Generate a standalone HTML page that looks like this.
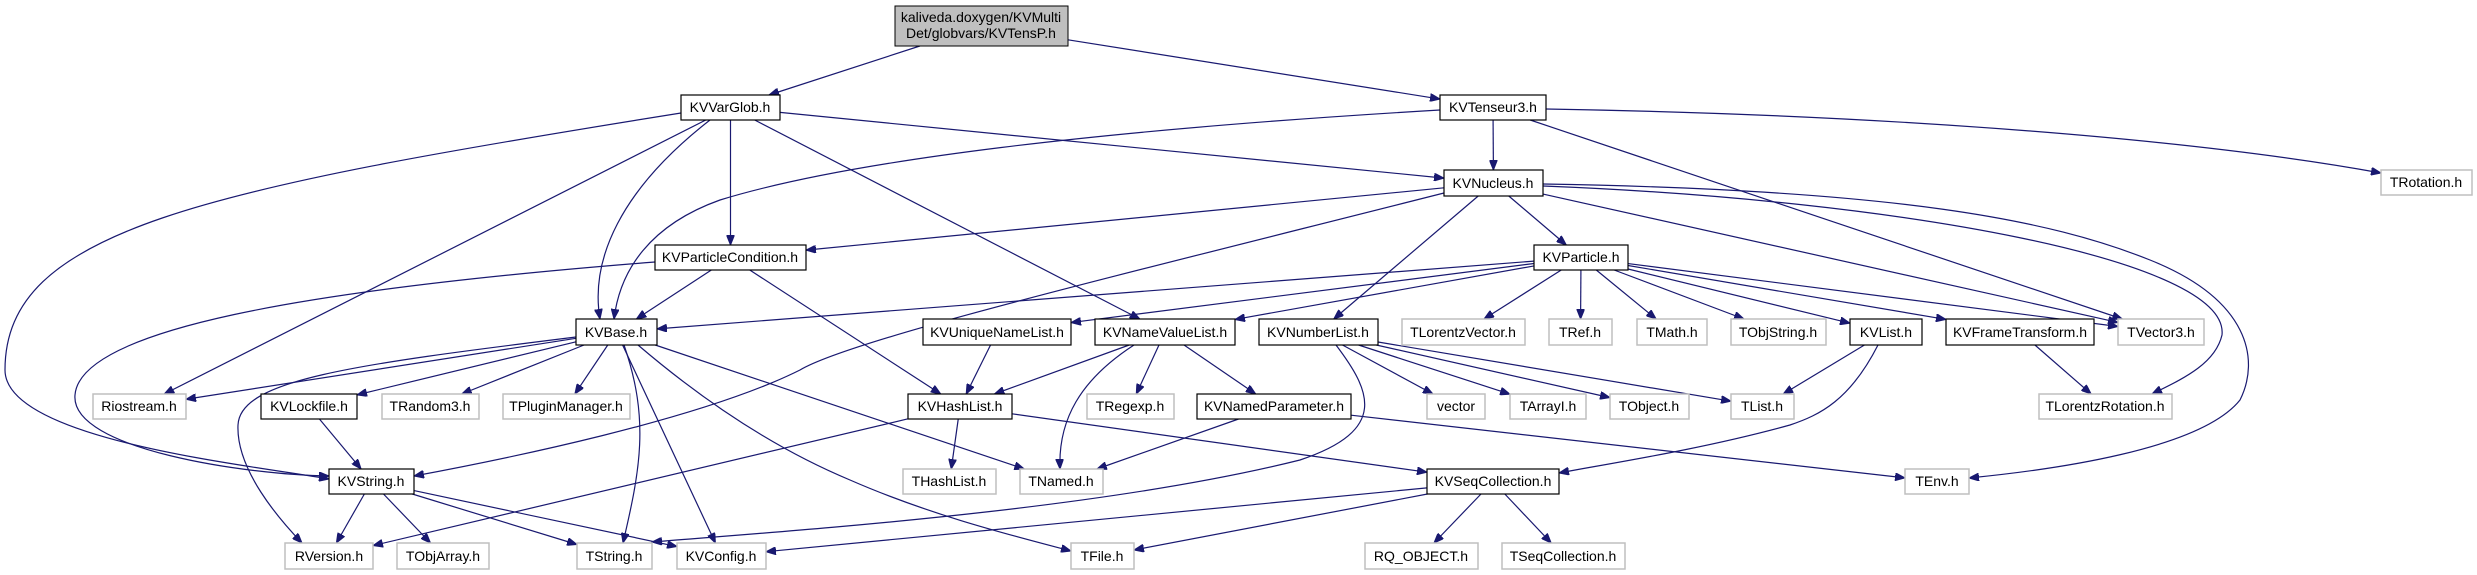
<!DOCTYPE html>
<html><head><meta charset="utf-8"><style>
html,body{margin:0;padding:0;background:#fff;}
svg{display:block;}
text{font-family:"Liberation Sans",Arial,sans-serif;font-size:14px;fill:#000;text-anchor:middle;}
</style></head><body>
<svg id="g" width="2477" height="575" viewBox="0 0 2477 575" xmlns="http://www.w3.org/2000/svg">
<defs><marker id="a" markerUnits="userSpaceOnUse" markerWidth="11" markerHeight="8" refX="10" refY="4" orient="auto"><path d="M0,0 L10,4 L0,8 z" fill="#191970" stroke="#191970"/></marker></defs>
<g id="edges" fill="none" stroke="#191970" stroke-width="1.2"></g>
<g id="nodes"></g>
<g id="labels">
<rect x="895" y="6" width="173" height="40" fill="#bfbfbf" stroke="#000"/>
<text x="981" y="22">kaliveda.doxygen/KVMulti</text>
<text x="981" y="38">Det/globvars/KVTensP.h</text>
</g>
</svg>
<script>
var N={
VarGlob:[681,95,780,120,"KVVarGlob.h",1],
Tenseur:[1440,95,1546,120,"KVTenseur3.h",1],
TRotation:[2381,170,2472,195,"TRotation.h",0],
Nucleus:[1444,170,1543,196,"KVNucleus.h",1],
PCond:[655,245,806,270,"KVParticleCondition.h",1],
Particle:[1534,245,1628,270,"KVParticle.h",1],
Base:[576,319,657,345,"KVBase.h",1],
UNL:[923,319,1071,345,"KVUniqueNameList.h",1],
NVL:[1095,319,1235,345,"KVNameValueList.h",1],
NumL:[1259,319,1378,345,"KVNumberList.h",1],
TLV:[1402,319,1525,345,"TLorentzVector.h",0],
TRef:[1549,319,1612,345,"TRef.h",0],
TMath:[1637,319,1707,345,"TMath.h",0],
TObjString:[1731,319,1826,345,"TObjString.h",0],
KVList:[1850,319,1922,345,"KVList.h",1],
KVFT:[1946,319,2094,345,"KVFrameTransform.h",1],
TVector3:[2118,319,2204,345,"TVector3.h",0],
Riostream:[93,394,186,419,"Riostream.h",0],
Lockfile:[261,394,357,419,"KVLockfile.h",1],
TRandom3:[382,394,479,419,"TRandom3.h",0],
TPM:[503,394,630,419,"TPluginManager.h",0],
HashList:[908,394,1012,419,"KVHashList.h",1],
TRegexp:[1087,394,1174,419,"TRegexp.h",0],
NamedPar:[1197,394,1351,419,"KVNamedParameter.h",1],
vector:[1427,394,1485,419,"vector",0],
TArrayI:[1510,394,1586,419,"TArrayI.h",0],
TObject:[1610,394,1689,419,"TObject.h",0],
TList:[1731,394,1794,419,"TList.h",0],
TLR:[2039,394,2172,419,"TLorentzRotation.h",0],
KVString:[329,469,414,494,"KVString.h",1],
THashList:[903,469,996,494,"THashList.h",0],
TNamed:[1020,469,1103,494,"TNamed.h",0],
SeqColl:[1427,469,1559,494,"KVSeqCollection.h",1],
TEnv:[1905,469,1969,494,"TEnv.h",0],
RVersion:[285,543,373,569,"RVersion.h",0],
TObjArray:[397,543,489,569,"TObjArray.h",0],
TString:[577,543,652,569,"TString.h",0],
KVConfig:[677,543,766,569,"KVConfig.h",0],
TFile:[1071,543,1134,569,"TFile.h",0],
RQ:[1365,543,1478,569,"RQ_OBJECT.h",0],
TSeqColl:[1502,543,1625,569,"TSeqCollection.h",0],
Top:[895,6,1068,46,"",1]
};
var ns="http://www.w3.org/2000/svg";
var E=document.getElementById("edges");
function c(n){var b=N[n];return[(b[0]+b[2])/2,(b[1]+b[3])/2];}
function clip(n,px,py){var b=N[n],cx=(b[0]+b[2])/2,cy=(b[1]+b[3])/2,hw=(b[2]-b[0])/2,hh=(b[3]-b[1])/2,dx=px-cx,dy=py-cy;var t=Math.min(dx?hw/Math.abs(dx):1e9,dy?hh/Math.abs(dy):1e9);return[cx+dx*t,cy+dy*t];}
function line(a,b){var ca=c(a),cb=c(b);var p=clip(a,cb[0],cb[1]),q=clip(b,ca[0],ca[1]);path("M"+p[0]+","+p[1]+" L"+q[0]+","+q[1]);}
function path(d){var p=document.createElementNS(ns,"path");p.setAttribute("d",d);p.setAttribute("marker-end","url(#a)");E.appendChild(p);}
[["Top","VarGlob"],["Top","Tenseur"],["VarGlob","Riostream"],["VarGlob","PCond"],["VarGlob","NVL"],["VarGlob","Nucleus"],
["Tenseur","Nucleus"],["Tenseur","TVector3"],["Nucleus","PCond"],["Nucleus","Particle"],["Nucleus","NumL"],["Nucleus","TVector3"],
["PCond","Base"],["PCond","HashList"],["Particle","Base"],["Particle","UNL"],["Particle","NVL"],["Particle","TLV"],["Particle","TRef"],
["Particle","TMath"],["Particle","TObjString"],["Particle","KVList"],["Particle","KVFT"],["Particle","TVector3"],
["Base","Riostream"],["Base","Lockfile"],["Base","TRandom3"],["Base","TPM"],["Base","KVConfig"],["Base","TNamed"],
["Lockfile","KVString"],["KVString","RVersion"],["KVString","TObjArray"],["KVString","TString"],["KVString","KVConfig"],
["UNL","HashList"],["NVL","HashList"],["NVL","TRegexp"],["NVL","NamedPar"],["NumL","vector"],["NumL","TArrayI"],["NumL","TObject"],["NumL","TList"],
["HashList","THashList"],["HashList","SeqColl"],["HashList","RVersion"],["NamedPar","TNamed"],["NamedPar","TEnv"],["KVList","TList"],["KVFT","TLR"],
["SeqColl","RQ"],["SeqColl","TSeqColl"],["SeqColl","TFile"],["SeqColl","KVConfig"]
].forEach(function(e){line(e[0],e[1]);});
[
"M681,113 C200,190 5,230 5,370 C5,440 250,465 329,479",
"M655,262 C300,290 80,330 75,395 C70,450 250,475 329,476",
"M1440,110 C1100,130 850,160 720,200 C650,225 620,270 614,319",
"M1444,193 C1100,280 850,340 800,370 C700,420 500,460 414,476",
"M1543,186 C1900,200 2230,260 2222,335 C2215,365 2180,380 2152,394",
"M1543,184 C1900,190 2050,220 2150,260 C2250,300 2260,360 2240,400 C2200,450 2050,470 1969,478",
"M1336,345 C1370,390 1390,430 1300,460 C1100,510 800,530 652,542",
"M1134,345 C1080,380 1058,420 1060,469",
"M576,337 C350,365 240,380 238,425 C236,470 280,520 302,543",
"M624,345 C650,420 640,470 623,543",
"M638,345 C720,415 790,455 850,480 C930,515 1010,535 1071,551",
"M1878,345 C1850,400 1820,415 1790,425 C1700,450 1600,465 1559,473",
"M1546,109 C1900,115 2200,140 2381,173",
"M710,120 C620,190 590,260 600,319"
].forEach(path);
var G=document.getElementById("nodes");
for(var k in N){if(k=="Top")continue;var b=N[k];
var r=document.createElementNS(ns,"rect");r.setAttribute("x",b[0]);r.setAttribute("y",b[1]);r.setAttribute("width",b[2]-b[0]);r.setAttribute("height",b[3]-b[1]);
r.setAttribute("fill","#fff");r.setAttribute("stroke",b[5]?"#000":"#bfbfbf");r.setAttribute("stroke-width",b[5]?"1.2":"1.5");G.appendChild(r);}
</script>
<div style="position:absolute;left:0;top:0;width:2477px;height:575px;pointer-events:none">
<svg width="2477" height="575" xmlns="http://www.w3.org/2000/svg">
<text x="730" y="112">KVVarGlob.h</text>
<text x="1493" y="112">KVTenseur3.h</text>
<text x="2426" y="187">TRotation.h</text>
<text x="1493" y="188">KVNucleus.h</text>
<text x="730" y="262">KVParticleCondition.h</text>
<text x="1581" y="262">KVParticle.h</text>
<text x="616" y="337">KVBase.h</text>
<text x="997" y="337">KVUniqueNameList.h</text>
<text x="1165" y="337">KVNameValueList.h</text>
<text x="1318" y="337">KVNumberList.h</text>
<text x="1463" y="337">TLorentzVector.h</text>
<text x="1580" y="337">TRef.h</text>
<text x="1672" y="337">TMath.h</text>
<text x="1778" y="337">TObjString.h</text>
<text x="1886" y="337">KVList.h</text>
<text x="2020" y="337">KVFrameTransform.h</text>
<text x="2161" y="337">TVector3.h</text>
<text x="139" y="411">Riostream.h</text>
<text x="309" y="411">KVLockfile.h</text>
<text x="430" y="411">TRandom3.h</text>
<text x="566" y="411">TPluginManager.h</text>
<text x="960" y="411">KVHashList.h</text>
<text x="1130" y="411">TRegexp.h</text>
<text x="1274" y="411">KVNamedParameter.h</text>
<text x="1456" y="411">vector</text>
<text x="1548" y="411">TArrayI.h</text>
<text x="1649" y="411">TObject.h</text>
<text x="1762" y="411">TList.h</text>
<text x="2105" y="411">TLorentzRotation.h</text>
<text x="371" y="486">KVString.h</text>
<text x="949" y="486">THashList.h</text>
<text x="1061" y="486">TNamed.h</text>
<text x="1493" y="486">KVSeqCollection.h</text>
<text x="1937" y="486">TEnv.h</text>
<text x="329" y="561">RVersion.h</text>
<text x="443" y="561">TObjArray.h</text>
<text x="614" y="561">TString.h</text>
<text x="721" y="561">KVConfig.h</text>
<text x="1102" y="561">TFile.h</text>
<text x="1421" y="561">RQ_OBJECT.h</text>
<text x="1563" y="561">TSeqCollection.h</text>
</svg></div>
</body></html>
